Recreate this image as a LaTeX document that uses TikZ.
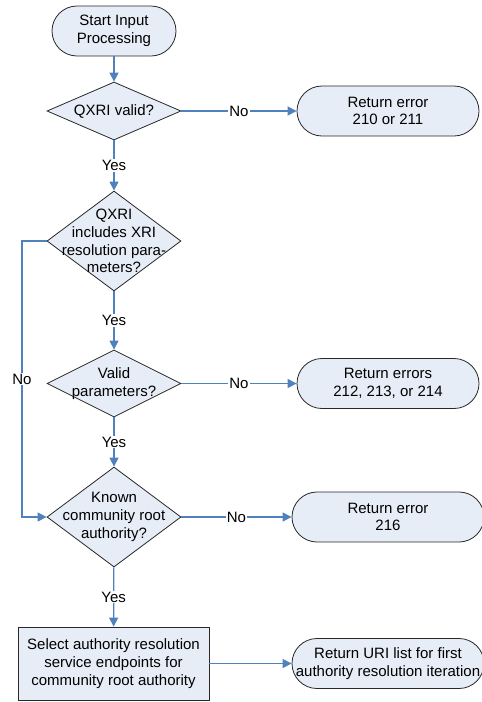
\documentclass[tikz,border=0pt]{standalone}
\usepackage{fontspec}
\setmainfont{Liberation Sans}
\usepackage{tikz}
\usetikzlibrary{shapes.geometric, arrows.meta, positioning, calc}
\definecolor{boxfill}{RGB}{231,237,247}
\definecolor{flowblue}{RGB}{79,129,189}
\definecolor{outline}{RGB}{40,40,40}

\begin{document}
\begin{tikzpicture}[x=1pt, y=-1pt,
  every node/.style={font=\fontsize{15}{17.7}\selectfont},
  terminal/.style={rectangle, draw=outline, fill=boxfill, line width=0.8pt, rounded corners=25pt,
    minimum width=#1, minimum height=50pt, inner sep=2pt, align=center},
  decision/.style={diamond, draw=outline, fill=boxfill, line width=0.8pt,
    minimum width=134pt, minimum height=#1, inner sep=0pt},
  process/.style={rectangle, draw=outline, fill=boxfill, line width=0.8pt,
    minimum width=191pt, minimum height=73pt, inner sep=2pt, align=center},
  dtext/.style={align=center, inner sep=0pt},
  lbl/.style={fill=white, inner sep=1pt},
  flow/.style={draw=flowblue, line width=1.2pt, -{Triangle[length=9pt, width=9pt]}}]

\useasboundingbox (0,0) rectangle (482,702);

% Main column
\node[terminal=124pt] (start) at (114,31) {Start Input\\Processing};
\node[decision=58pt, label={[dtext]center:QXRI valid?}] (valid) at (114,111) {};
\node[decision=100pt, label={[dtext]center:{QXRI\\includes XRI\\resolution para-\\meters?}}] (incl) at (114,241) {};
\node[decision=67pt, label={[dtext]center:{Valid\\parameters?}}] (params) at (114,383.5) {};
\node[decision=100pt, label={[dtext]center:{Known\\community root\\authority?}}] (known) at (114,517) {};
\node[process] (select) at (113.5,663.5) {Select authority resolution\\service endpoints for\\community root authority};

% Results on the right
\node[terminal=182pt] (err210) at (388,111) {Return error\\210 or 211};
\node[terminal=182pt] (err212) at (388,383.5) {Return errors\\212, 213, or 214};
\node[terminal=192pt] (err216) at (388,517) {Return error\\216};
\node[terminal=192pt] (urilist) at (388,663.5) {Return URI list for first\\authority resolution iteration};

\coordinate (noloop) at (22,241);

% Connectors
\draw[flow] (start) -- (valid);
\draw[flow] (valid) -- node[lbl] {No} (err210);
\draw[flow] (valid) -- node[lbl] {Yes} (incl);
\draw[flow] (incl) -- node[lbl] {Yes} (params);
\draw[flow] (incl.west) -- (noloop) |- node[lbl, pos=0.25] {No} (known.west);
\draw[flow] (params) -- node[lbl] {No} (err212);
\draw[flow] (params) -- node[lbl] {Yes} (known);
\draw[flow] (known) -- node[lbl] {No} (err216);
\draw[flow] (known) -- node[lbl] {Yes} (select);
\draw[flow] (select) -- (urilist);
\end{tikzpicture}
\end{document}
